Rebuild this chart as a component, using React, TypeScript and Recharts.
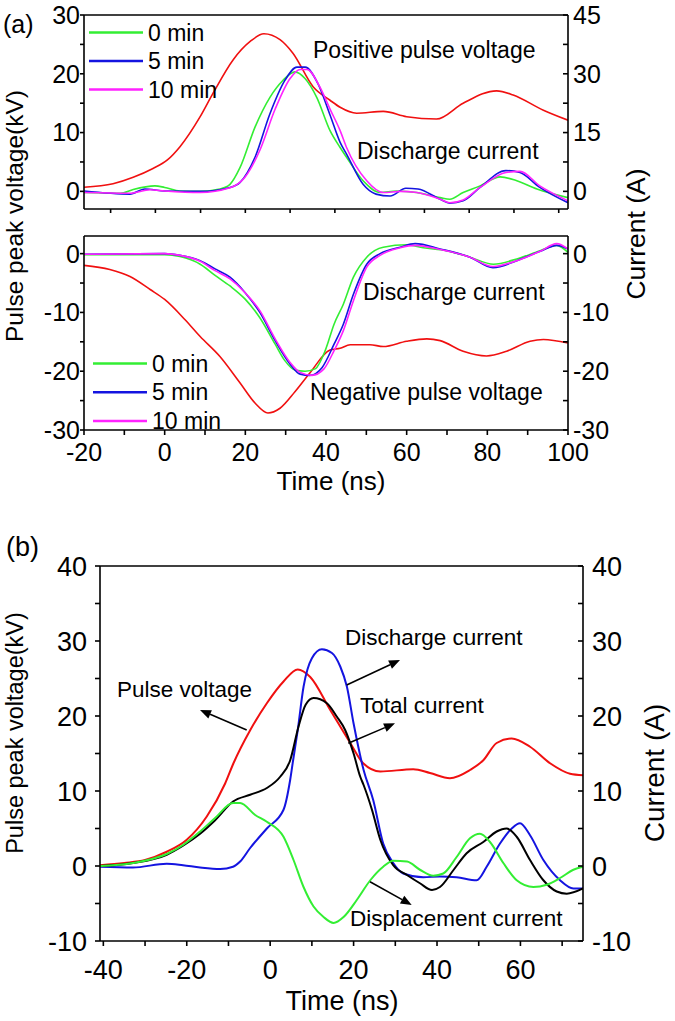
import { LineChart, Line, XAxis, YAxis } from 'recharts';

const FONT = "'Liberation Sans', Arial, Helvetica, sans-serif";
const RED = '#f01010';
const GREEN = '#33ee33';
const BLUE = '#1414e0';
const MAGENTA = '#ff22ff';
const BLACK = '#000000';

// ---- panel (a), positive pulse: voltage (kV) and discharge current (A)
const posVoltT = [-20, -12.8, -7.8, -2.9, 0.6, 3.8, 8.8, 12, 17, 21.2, 24.6, 28.6, 31.8, 36.8, 41, 43.5, 47.6, 54.2, 60, 67.4, 74, 82.3, 86.4, 93.9, 100];
const posVoltV = [0.7, 1.3, 2.4, 3.9, 5.3, 7.6, 12.7, 16.7, 22.4, 25.5, 26.8, 25.8, 23.5, 17.8, 15.5, 14.3, 13.3, 13.6, 12.7, 12.3, 15, 17.1, 16.4, 13.8, 12.1];

const pos0T = [-20, -11, -7.8, -2.4, 0, 3.8, 8.8, 13.7, 16.2, 18.7, 22.4, 26.1, 29.3, 32.3, 34.8, 37.7, 41, 43.5, 45.1, 49.2, 53.4, 57.5, 62.5, 68.3, 70.7, 74, 78.2, 83.2, 87.3, 92.3, 100];
const pos0I = [-0.3, -0.5, 0.5, 1.4, 1, 0.1, 0, 0.6, 1.8, 6.1, 16.4, 24, 28.3, 30.5, 28.8, 24, 15.5, 11.2, 8.7, 2.7, -0.3, 0.1, -0.3, -1.6, -2, -0.3, 1.4, 3.7, 2.7, 0.6, -1.6];

const pos5T = [-20, -8.6, -4.9, 0, 8.8, 16.2, 18.7, 22.4, 26.1, 29.8, 32.8, 34.8, 38, 41, 43.5, 45.1, 49.2, 52.4, 55.9, 59.8, 62.8, 68.3, 70.7, 74, 78.2, 84.6, 88.1, 93, 100];
const pos5I = [0.1, -0.7, 0.6, 0.1, 0, 1, 2.3, 8.7, 19.8, 28.3, 31.7, 31.7, 27.5, 19.5, 12.5, 9.5, 1.8, -0.7, -1.2, 0.8, 0.6, -2, -3, -2.4, 1, 5.3, 4.8, 1, -2.9];

const pos10T = [-20, -8.6, -3.6, 0, 8.8, 16.2, 19.9, 23.6, 27.4, 31.1, 33.6, 35.3, 38.5, 41, 43.5, 45.1, 50.1, 54.2, 58.4, 62.5, 68.3, 70.7, 74, 78.2, 84.6, 88.1, 93, 100];
const pos10I = [-0.3, -0.5, 0.4, 0.1, -0.3, 0.9, 3.6, 10.5, 21, 28.8, 31.1, 31.1, 26.6, 21, 15.5, 11.2, 2.7, -0.3, 0, -0.3, -2, -2.9, -2.2, 1, 4.8, 5.1, 1.4, -2.4];

// ---- panel (a), negative pulse
const negVoltT = [-20, -13.6, -8.6, -3.6, 0, 5, 8.8, 13.7, 18.7, 22.4, 25.6, 28.6, 32.3, 36, 41, 43.5, 46, 50.9, 54.2, 60, 65, 68.3, 74, 79.8, 84.8, 90.6, 93.9, 100];
const negVoltV = [-2, -2.7, -3.9, -6.1, -7.8, -11.2, -14.1, -17.5, -22, -25.4, -27.1, -26.3, -23.5, -20.3, -16.4, -16.1, -15.5, -15.5, -15.8, -14.9, -14.5, -14.8, -16.6, -17.4, -16.6, -14.9, -14.6, -15.2];

const neg0T = [-20, 0, 3.8, 8.8, 12.5, 16.2, 19.9, 23.6, 27.4, 29.8, 32.3, 34.8, 37.3, 39.8, 42, 44.3, 46.8, 50.1, 54.2, 60, 64.1, 69.9, 75.7, 81.5, 87.3, 93.1, 97.2, 100];
const neg0I = [-0.2, -0.2, -0.5, -1.8, -3.7, -5.5, -7.7, -10.9, -15.4, -18.2, -19.8, -20, -19.6, -16.5, -12, -8.6, -4, -0.6, 1.1, 1.5, 1, 0.5, -0.6, -1.8, -0.9, 0.5, 1.4, 0.2];

const neg5T = [-20, 0, 3.8, 8.8, 12.5, 16.2, 19.9, 23.6, 27.4, 31.1, 33.6, 36, 39, 42, 44.3, 46.8, 50.1, 53.4, 58.4, 62.1, 68.3, 75.7, 81.4, 87.3, 93.1, 97.2, 100];
const neg5I = [-0.1, 0, -0.3, -1.2, -2.6, -4, -6.6, -10, -14.8, -18.8, -20.5, -20.7, -19.4, -15.4, -12, -6.9, -1.8, 0, 1.1, 1.7, 0.8, -0.6, -2.4, -1.2, 0.4, 1.4, 0.8];

const neg10T = [-20, 0, 3.8, 8.8, 12.5, 16.2, 19.9, 23.6, 27.4, 31.1, 33.6, 36.5, 39.5, 42, 44.3, 46.8, 50.1, 53.4, 58.4, 62.1, 68.3, 75.7, 81.4, 87.3, 93.1, 97.2, 100];
const neg10I = [-0.1, 0, -0.3, -1.3, -2.9, -4.3, -6.6, -9.7, -14.5, -18.5, -20.2, -20.7, -19.6, -16.5, -13.1, -8, -2.3, -0.3, 1, 1.4, 0.7, -0.6, -2.2, -1.2, 0.4, 1.7, 0.8];

// ---- panel (b)
const bVoltT = [-40.8, -35, -30, -24.8, -20, -15.2, -10.8, -8.8, -4.8, -0.8, 3.2, 6.6, 9.6, 14.4, 19.2, 22.3, 26.4, 34.3, 38.3, 43.1, 47.9, 51.1, 54.3, 57.9, 62.3, 67.1, 71.9, 75];
const bVoltV = [0.1, 0.4, 0.8, 1.9, 3.5, 6.6, 11, 13.7, 18.1, 21.7, 24.6, 26.2, 25.2, 20.8, 16.4, 13.7, 12.6, 12.9, 12.4, 11.7, 12.8, 14.1, 16.4, 17, 15.9, 13.7, 12.3, 12.1];

const bDisT = [-40.8, -32.9, -24.8, -20.9, -16.8, -12, -8.9, -7.2, -4.8, -0.8, 3.2, 4.8, 5.5, 6.6, 8, 10, 12.4, 14.8, 16.8, 18.4, 20, 22.4, 24.7, 27.1, 29.5, 31.9, 36.7, 40.7, 44.7, 49.5, 51.9, 55.1, 57.9, 59.9, 62.3, 65.5, 69.5, 72.7, 75];
const bDisI = [-0.1, -0.2, 0.3, 0.1, -0.2, -0.4, -0.1, 0.6, 2.4, 5, 7.5, 11.5, 14.1, 18.1, 23.9, 27.7, 28.9, 28.4, 26.6, 23.9, 19, 12.8, 8.8, 3, 0.4, -1, -1.5, -1.4, -1.5, -1.9, -0.1, 3, 5, 5.7, 4.1, 0.8, -1.9, -3, -3];

const bTotT = [-40.8, -32.9, -24.8, -20.9, -16.8, -13.2, -8.9, -4.8, -0.8, 2.4, 4.8, 6.8, 8.5, 10.4, 13.6, 16, 18, 20, 21.6, 22.4, 24.4, 26.4, 29.5, 32.8, 35.9, 38.8, 40.7, 44, 47.1, 51.1, 54.3, 56.7, 59.1, 62.3, 65.5, 68.7, 71.1, 75];
const bTotI = [0, 0.4, 1.5, 2.7, 4.3, 6.1, 8.6, 9.5, 10.4, 11.9, 14.1, 18.6, 21.5, 22.4, 21.7, 19.9, 18.1, 15, 11.9, 10.8, 7.5, 3.5, 0.1, -1.2, -2.3, -3.2, -2.8, -0.5, 1.7, 3.2, 4.6, 5, 3.9, 0.8, -1.9, -3.4, -3.7, -3];

const bDispT = [-40.8, -32.9, -24.8, -20.9, -16.8, -13.2, -8.9, -7.2, -3.6, -0.8, 3.2, 5.6, 8, 10.4, 12.8, 15.2, 17.6, 20.8, 24, 27.1, 29.5, 32.8, 35.9, 39.1, 41.5, 44.7, 47.9, 50.3, 52.7, 55.9, 59.1, 63.1, 66.3, 69.5, 72.7, 75];
const bDispI = [0, 0.4, 1.6, 2.8, 4.6, 6.4, 8.4, 8.4, 6.8, 5.9, 3.9, 0.8, -2.8, -5.4, -6.8, -7.6, -6.8, -4.5, -1.9, -0.1, 0.7, 0.6, -0.5, -1.3, -1, 1.2, 3.7, 4.3, 3.2, 0.4, -1.9, -2.8, -2.5, -1.6, -0.5, -0.1];

// ticks
const TOP_TIME_TICKS = [-13.4, -2.3, 8.9, 20, 31.1, 42.2, 53.3, 64.4, 75.5, 86.6, 97.7];
const A_TIME_TICKS = [-20, -10, 0, 10, 20, 30, 40, 50, 60, 70, 80, 90, 100];
const A_TIME_LABELS = [-20, 0, 20, 40, 60, 80, 100];
const POS_V_TICKS = [0, 5, 10, 15, 20, 25, 30];
const POS_V_LABELS = [0, 10, 20, 30];
const POS_I_TICKS = [0, 7.5, 15, 22.5, 30, 37.5, 45];
const POS_I_LABELS = [0, 15, 30, 45];
const NEG_TICKS = [-30, -25, -20, -15, -10, -5, 0];
const NEG_LABELS = [-30, -20, -10, 0];
const B_TIME_TICKS = [-40, -30, -20, -10, 0, 10, 20, 30, 40, 50, 60, 70];
const B_TIME_LABELS = [-40, -20, 0, 20, 40, 60];
const B_Y_TICKS = [-10, -5, 0, 5, 10, 15, 20, 25, 30, 35, 40];
const B_Y_LABELS = [-10, 0, 10, 20, 30, 40];

const LEGEND = [
  { label: '0 min', color: GREEN },
  { label: '5 min', color: BLUE },
  { label: '10 min', color: MAGENTA },
];

const pts = (t: number[], v: number[]) => t.map((x, i) => ({ t: x, v: v[i] }));
const labelIf = (major: number[]) => (v: number) => (major.includes(v) ? String(v) : '');

const axisStroke = { stroke: '#000', strokeWidth: 1.6 };
const tickA = { fill: '#000', fontSize: 25, fontFamily: FONT };
const tickB = { fill: '#000', fontSize: 27, fontFamily: FONT };

const posSeries = [
  { key: 'pv', data: pts(posVoltT, posVoltV), color: RED, axis: 'v' },
  { key: 'p0', data: pts(pos0T, pos0I), color: GREEN, axis: 'i' },
  { key: 'p5', data: pts(pos5T, pos5I), color: BLUE, axis: 'i' },
  { key: 'p10', data: pts(pos10T, pos10I), color: MAGENTA, axis: 'i' },
];
const negSeries = [
  { key: 'nv', data: pts(negVoltT, negVoltV), color: RED, axis: 'v' },
  { key: 'n0', data: pts(neg0T, neg0I), color: GREEN, axis: 'i' },
  { key: 'n5', data: pts(neg5T, neg5I), color: BLUE, axis: 'i' },
  { key: 'n10', data: pts(neg10T, neg10I), color: MAGENTA, axis: 'i' },
];
const bSeries = [
  { key: 'bv', data: pts(bVoltT, bVoltV), color: RED, axis: 'v' },
  { key: 'bd', data: pts(bDisT, bDisI), color: BLUE, axis: 'i' },
  { key: 'bt', data: pts(bTotT, bTotI), color: BLACK, axis: 'i' },
  { key: 'bg', data: pts(bDispT, bDispI), color: GREEN, axis: 'i' },
];

function Arrow({ x1, y1, x2, y2 }: { x1: number; y1: number; x2: number; y2: number }) {
  const a = Math.atan2(y2 - y1, x2 - x1);
  const L = 11;
  const W = 4.5;
  const bx = x2 - L * Math.cos(a);
  const by = y2 - L * Math.sin(a);
  const p = `${x2},${y2} ${bx + W * Math.sin(a)},${by - W * Math.cos(a)} ${bx - W * Math.sin(a)},${by + W * Math.cos(a)}`;
  return (
    <g>
      <line x1={x1} y1={y1} x2={bx} y2={by} stroke="#000" strokeWidth={1.6} />
      <polygon points={p} fill="#000" />
    </g>
  );
}

export default function App() {
  return (
    <div style={{ position: 'absolute', left: 0, top: 0, width: 675, height: 1021, background: '#fff' }}>
      {/* (a) positive pulse */}
      <div style={{ position: 'absolute', left: 0, top: 0 }}>
        <LineChart width={675} height={219} margin={{ top: 14, right: 0, bottom: 0, left: 0 }}>
          <XAxis xAxisId="x" dataKey="t" type="number" domain={[-20, 100]} ticks={TOP_TIME_TICKS} interval={0}
            tickFormatter={() => ''} height={10} tickSize={4} axisLine={axisStroke} tickLine={axisStroke} allowDataOverflow />
          <XAxis xAxisId="top" dataKey="t" orientation="top" type="number" domain={[-20, 100]} height={1}
            axisLine={axisStroke} tickLine={false} tick={false} />
          <YAxis yAxisId="v" type="number" domain={[-3, 30]} ticks={POS_V_TICKS} interval={0} tickFormatter={labelIf(POS_V_LABELS)}
            width={84} tickSize={4} tickMargin={0} axisLine={axisStroke} tickLine={axisStroke} tick={tickA} allowDataOverflow />
          <YAxis yAxisId="i" orientation="right" type="number" domain={[-4.5, 45]} ticks={POS_I_TICKS} interval={0}
            tickFormatter={labelIf(POS_I_LABELS)} width={107} tickSize={-5} tickMargin={10} axisLine={axisStroke}
            tickLine={axisStroke} tick={tickA} allowDataOverflow />
          {posSeries.map((s) => (
            <Line key={s.key} xAxisId="x" yAxisId={s.axis} data={s.data} dataKey="v" type="monotone" stroke={s.color}
              strokeWidth={1.6} dot={false} isAnimationActive={false} />
          ))}
        </LineChart>
      </div>

      {/* (a) negative pulse */}
      <div style={{ position: 'absolute', left: 0, top: 219 }}>
        <LineChart width={675} height={261} margin={{ top: 16, right: 0, bottom: 0, left: 0 }}>
          <XAxis xAxisId="x" dataKey="t" type="number" domain={[-20, 100]} ticks={A_TIME_TICKS} interval={0}
            tickFormatter={labelIf(A_TIME_LABELS)} height={50} tickSize={5} tickMargin={8} axisLine={axisStroke}
            tickLine={axisStroke} tick={tickA} allowDataOverflow />
          <XAxis xAxisId="top" dataKey="t" orientation="top" type="number" domain={[-20, 100]} height={1}
            axisLine={axisStroke} tickLine={false} tick={false} />
          <YAxis yAxisId="v" type="number" domain={[-30, 3]} ticks={NEG_TICKS} interval={0} tickFormatter={labelIf(NEG_LABELS)}
            width={84} tickSize={4} tickMargin={0} axisLine={axisStroke} tickLine={axisStroke} tick={tickA} allowDataOverflow />
          <YAxis yAxisId="i" orientation="right" type="number" domain={[-30, 3]} ticks={NEG_TICKS} interval={0}
            tickFormatter={labelIf(NEG_LABELS)} width={107} tickSize={-5} tickMargin={10} axisLine={axisStroke}
            tickLine={axisStroke} tick={tickA} allowDataOverflow />
          {negSeries.map((s) => (
            <Line key={s.key} xAxisId="x" yAxisId={s.axis} data={s.data} dataKey="v" type="monotone" stroke={s.color}
              strokeWidth={1.6} dot={false} isAnimationActive={false} />
          ))}
        </LineChart>
      </div>

      {/* (b) */}
      <div style={{ position: 'absolute', left: 0, top: 540 }}>
        <LineChart width={675} height={451} margin={{ top: 25, right: 0, bottom: 0, left: 0 }}>
          <XAxis xAxisId="x" dataKey="t" type="number" domain={[-40.8, 75]} ticks={B_TIME_TICKS} interval={0}
            tickFormatter={labelIf(B_TIME_LABELS)} height={50} tickSize={5} tickMargin={14} axisLine={axisStroke}
            tickLine={axisStroke} tick={tickB} allowDataOverflow />
          <XAxis xAxisId="top" dataKey="t" orientation="top" type="number" domain={[-40.8, 75]} height={1}
            axisLine={axisStroke} tickLine={false} tick={false} />
          <YAxis yAxisId="v" type="number" domain={[-10, 40]} ticks={B_Y_TICKS} interval={0} tickFormatter={labelIf(B_Y_LABELS)}
            width={100} tickSize={5} tickMargin={8} axisLine={axisStroke} tickLine={axisStroke} tick={tickB} allowDataOverflow />
          <YAxis yAxisId="i" orientation="right" type="number" domain={[-10, 40]} ticks={B_Y_TICKS} interval={0}
            tickFormatter={labelIf(B_Y_LABELS)} width={92} tickSize={-5} tickMargin={14} axisLine={axisStroke}
            tickLine={axisStroke} tick={tickB} allowDataOverflow />
          {bSeries.map((s) => (
            <Line key={s.key} xAxisId="x" yAxisId={s.axis} data={s.data} dataKey="v" type="monotone" stroke={s.color}
              strokeWidth={2} dot={false} isAnimationActive={false} />
          ))}
        </LineChart>
      </div>

      {/* labels, legends and annotations */}
      <svg width={675} height={1021} style={{ position: 'absolute', left: 0, top: 0, pointerEvents: 'none' }} fontFamily={FONT}>
        <text x={3} y={33} fontSize={25}>(a)</text>
        <text x={6} y={556} fontSize={27}>(b)</text>

        <text transform="translate(23,216) rotate(-90)" textAnchor="middle" fontSize={24.5}>Pulse peak voltage(kV)</text>
        <text transform="translate(645,234) rotate(-90)" textAnchor="middle" fontSize={26.5}>Current (A)</text>
        <text x={331} y={490} textAnchor="middle" fontSize={26}>Time (ns)</text>

        <text transform="translate(23,733) rotate(-90)" textAnchor="middle" fontSize={23.5}>Pulse peak voltage(kV)</text>
        <text transform="translate(664,773) rotate(-90)" textAnchor="middle" fontSize={28}>Current (A)</text>
        <text x={342} y={1010} textAnchor="middle" fontSize={27}>Time (ns)</text>

        {LEGEND.map((l, i) => (
          <g key={`lt${i}`}>
            <line x1={89} x2={143} y1={32.5 + i * 28.5} y2={32.5 + i * 28.5} stroke={l.color} strokeWidth={2.5} />
            <text x={148} y={40.5 + i * 28.5} fontSize={23}>{l.label}</text>
          </g>
        ))}
        {LEGEND.map((l, i) => (
          <g key={`lb${i}`}>
            <line x1={93} x2={147} y1={363.5 + i * 28.7} y2={363.5 + i * 28.7} stroke={l.color} strokeWidth={2.5} />
            <text x={152} y={371.5 + i * 28.7} fontSize={23}>{l.label}</text>
          </g>
        ))}

        <text x={313} y={58} fontSize={23}>Positive pulse voltage</text>
        <text x={357} y={159} fontSize={23}>Discharge current</text>
        <text x={363} y={300} fontSize={23}>Discharge current</text>
        <text x={310} y={400} fontSize={23}>Negative pulse voltage</text>

        <text x={117} y={697} fontSize={22.5}>Pulse voltage</text>
        <text x={345} y={645} fontSize={22.5}>Discharge current</text>
        <text x={360} y={713} fontSize={22.5}>Total current</text>
        <text x={350} y={926} fontSize={22.5}>Displacement current</text>
        <Arrow x1={246.7} y1={730} x2={200} y2={710} />
        <Arrow x1={346.7} y1={685} x2={400} y2={660} />
        <Arrow x1={348.3} y1={743.3} x2={395} y2={723.3} />
        <Arrow x1={370} y1={881.7} x2={411.7} y2={905} />
      </svg>
    </div>
  );
}
